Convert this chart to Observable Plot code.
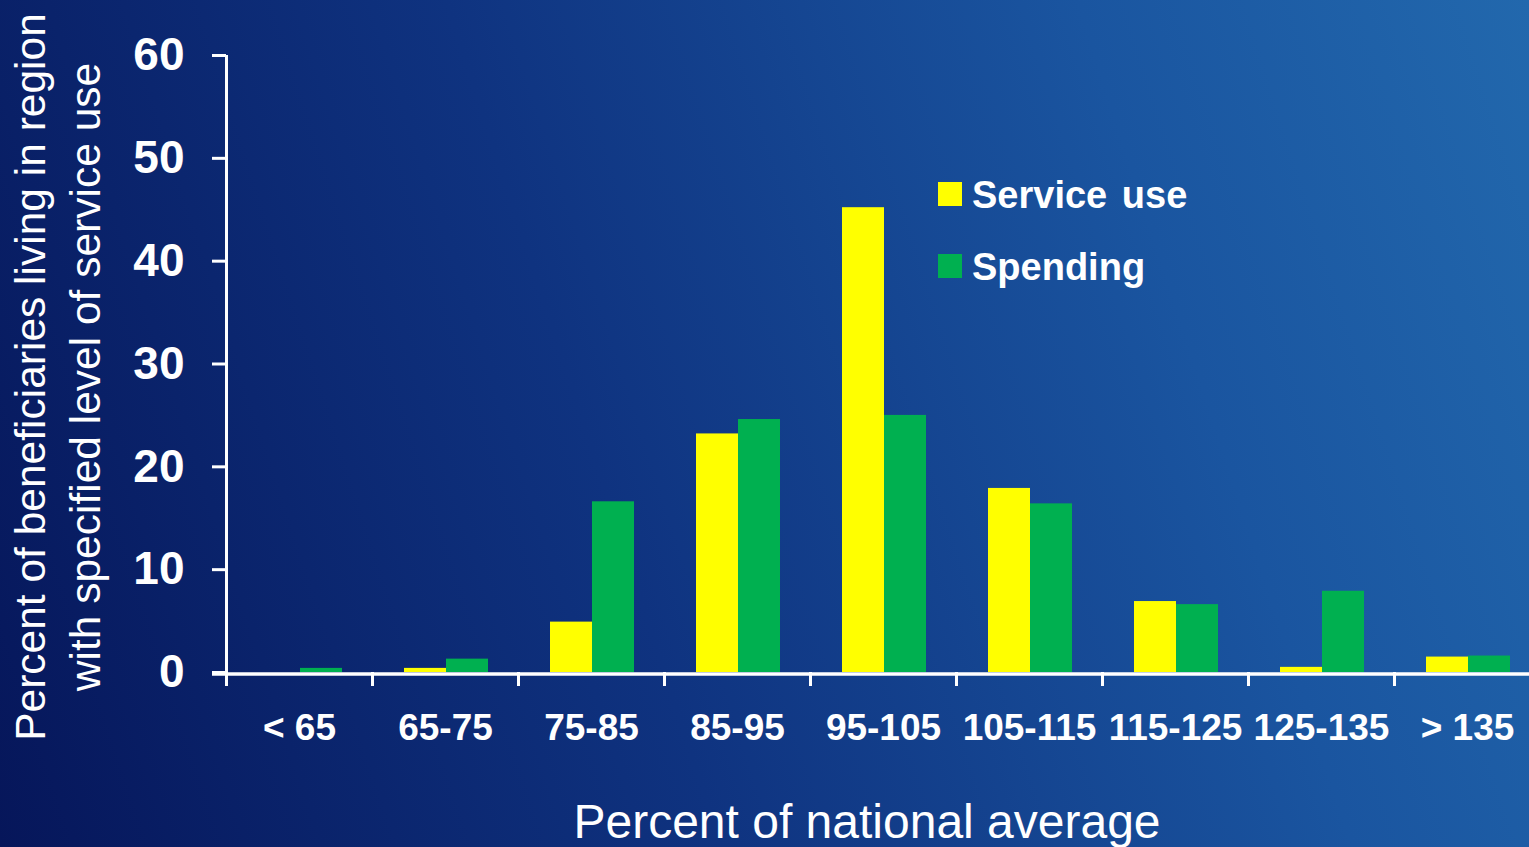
<!DOCTYPE html>
<html>
<head>
<meta charset="utf-8">
<script src="https://cdn.jsdelivr.net/npm/d3@7"></script>
<script src="https://cdn.jsdelivr.net/npm/@observablehq/plot@0.6"></script>
<style>
  html, body { margin: 0; padding: 0; overflow: hidden; }
  #wrap {
    position: relative; width: 1529px; height: 847px; overflow: hidden;
    background: linear-gradient(72deg, #06165a 0%, #0f3380 40%, #1a55a0 75%, #2268ad 100%);
    font-family: "Liberation Sans", Arial, sans-serif; color: white;
  }
  #chart { position: absolute; left: 0; top: 0; }
  #chart svg g[aria-label="y-axis tick"] path,
  #chart svg g[aria-label="x-axis tick"] path { stroke-width: 3px; }
  .ylab {
    position: absolute; left: 58px; top: 377px; width: 800px;
    transform: translate(-50%, -50%) rotate(-90deg);
    text-align: center; font-size: 42.5px; line-height: 55px; white-space: nowrap;
  }
  .xlab {
    position: absolute; left: 867px; top: 798px; transform: translateX(-50%);
    font-size: 48px; line-height: 47px; white-space: nowrap;
  }
  .leg { position: absolute; left: 938px; height: 39px; }
  .leg .sw { position: absolute; left: 0; width: 24px; height: 24px; }
  .leg .tx { position: absolute; left: 34px; top: 0; font-size: 38px; line-height: 39px; font-weight: bold; white-space: nowrap; word-spacing: 4px; }
</style>
</head>
<body>
<div id="wrap">
  <div id="chart"></div>
  <div class="ylab">Percent of beneficiaries living in region<br>with specified level of service use</div>
  <div class="xlab">Percent of national average</div>
  <div class="leg" style="top:176px"><div class="sw" style="top:6px;background:#ffff00"></div><div class="tx">Service use</div></div>
  <div class="leg" style="top:248px"><div class="sw" style="top:6px;background:#00b050"></div><div class="tx">Spending</div></div>
</div>
<script>
const categories = ["< 65", "65-75", "75-85", "85-95", "95-105", "105-115", "115-125", "125-135", "> 135"];
const serviceUse = [0, 0.4, 4.9, 23.2, 45.2, 17.9, 6.9, 0.5, 1.5];
const spending = [0.4, 1.3, 16.6, 24.6, 25.0, 16.4, 6.6, 7.9, 1.6];
const yTicks = [0, 10, 20, 30, 40, 50, 60];

const rows = categories.map((c, i) => ({cat: c, service: serviceUse[i], spending: spending[i]}));

const chart = Plot.plot({
  width: 1529,
  height: 847,
  marginLeft: 226,
  marginRight: 0,
  marginTop: 55,
  marginBottom: 175,
  style: {background: "transparent", color: "white", fontFamily: "'Liberation Sans', Arial, sans-serif", overflow: "visible"},
  x: {domain: categories, range: [226, 1540], padding: 0, label: null},
  y: {domain: [0, 60], label: null},
  marks: [
    Plot.barY(rows, {x: "cat", y: "service", fill: "#ffff00", insetLeft: 32, insetRight: 72}),
    Plot.barY(rows, {x: "cat", y: "spending", fill: "#00b050", insetLeft: 74, insetRight: 30}),
    Plot.ruleY([0], {stroke: "white", strokeWidth: 3.5, insetLeft: -14, dy: 1.5}),
    Plot.ruleX([categories[0]], {stroke: "white", strokeWidth: 3, dx: -73}),
    Plot.axisY({ticks: yTicks, tickSize: 14, tickPadding: 28, fontSize: 46, fontWeight: "bold",
      stroke: "white", strokeWidth: 3, label: null, tickFormat: d => String(d)}),
    Plot.axisX({tickSize: 14, tickFormat: () => "", dx: -73, stroke: "white", strokeWidth: 3, label: null}),
    Plot.axisX({tickSize: 0, tickPadding: 41, fontSize: 37, fontWeight: "bold", label: null})
  ]
});
document.getElementById("chart").appendChild(chart);
</script>
</body>
</html>
